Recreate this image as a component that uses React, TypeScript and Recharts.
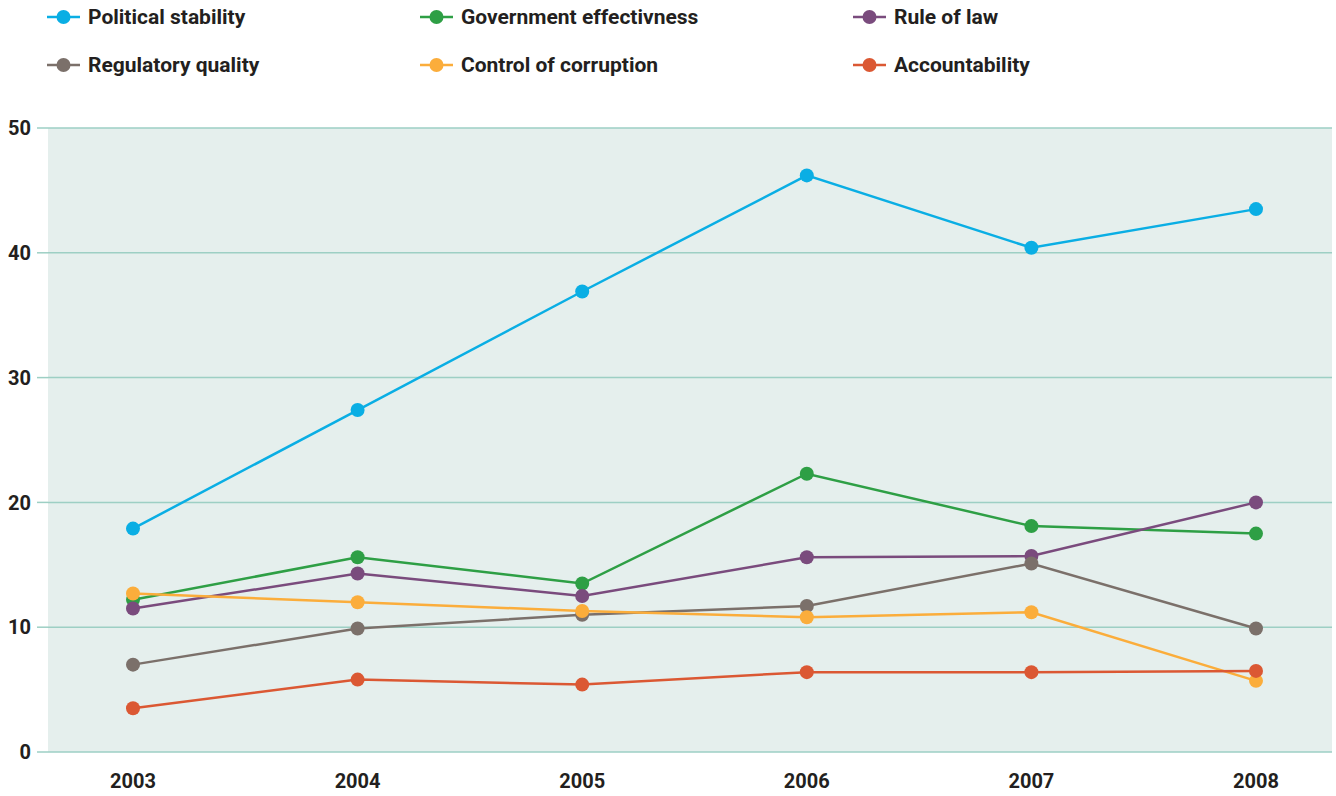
import { LineChart, Line, XAxis, YAxis, CartesianGrid } from "recharts";

const years = ["2003", "2004", "2005", "2006", "2007", "2008"];
const politicalStability = [17.9, 27.4, 36.9, 46.2, 40.4, 43.5];
const governmentEffectivness = [12.2, 15.6, 13.5, 22.3, 18.1, 17.5];
const ruleOfLaw = [11.5, 14.3, 12.5, 15.6, 15.7, 20.0];
const regulatoryQuality = [7.0, 9.9, 11.0, 11.7, 15.1, 9.9];
const controlOfCorruption = [12.7, 12.0, 11.3, 10.8, 11.2, 5.7];
const accountability = [3.5, 5.8, 5.4, 6.4, 6.4, 6.5];
const yTicks = [0, 10, 20, 30, 40, 50];

const series = [
  { key: "political", name: "Political stability", color: "#0aaee4", values: politicalStability },
  { key: "government", name: "Government effectivness", color: "#2e9f45", values: governmentEffectivness },
  { key: "rule", name: "Rule of law", color: "#7a4b7d", values: ruleOfLaw },
  { key: "regulatory", name: "Regulatory quality", color: "#7b706a", values: regulatoryQuality },
  { key: "corruption", name: "Control of corruption", color: "#fbad3b", values: controlOfCorruption },
  { key: "accountability", name: "Accountability", color: "#db5833", values: accountability },
];

const data = years.map((year, i) => {
  const row: any = { year };
  series.forEach((s) => (row[s.key] = s.values[i]));
  return row;
});

const FONT = "Roboto, 'DejaVu Sans', sans-serif";
const TEXT = "#231f20";
const GRID = "#9dcfc4";

const legendCols = [47, 420, 853];
const legendRows = [17, 65];

function LegendBox() {
  return (
    <div style={{ position: "absolute", left: 0, top: 0, width: 1336, height: 90 }}>
      {series.map((s, i) => {
        const left = legendCols[i % 3];
        const top = legendRows[Math.floor(i / 3)];
        return (
          <div
            key={s.key}
            style={{
              position: "absolute",
              left,
              top: top - 13,
              height: 26,
              display: "flex",
              alignItems: "center",
              fontFamily: FONT,
              fontWeight: 700,
              fontSize: 21,
              color: TEXT,
              whiteSpace: "nowrap",
            }}
          >
            <svg width={33} height={16} style={{ marginRight: 8 }}>
              <line x1={0} y1={8} x2={33} y2={8} stroke={s.color} strokeWidth={2.5} />
              <circle cx={16.5} cy={8} r={7} fill={s.color} />
            </svg>
            {s.name}
          </div>
        );
      })}
    </div>
  );
}

export default function App() {
  return (
    <div style={{ position: "absolute", left: 0, top: 0, width: 1336, height: 796, background: "#fff" }}>
      <LineChart
        width={1336}
        height={796}
        data={data}
        margin={{ top: 128, right: 4, bottom: 14, left: 0 }}
      >
        <CartesianGrid vertical={false} stroke={GRID} strokeWidth={1.5} fill="#e5efed" fillOpacity={1} />
        <XAxis
          dataKey="year"
          axisLine={false}
          tickLine={false}
          padding={{ left: 85, right: 76 }}
          tickMargin={16}
          tick={{ fontFamily: FONT, fontWeight: 700, fontSize: 20, fill: TEXT }}
        />
        <YAxis
          width={48}
          domain={[0, 50]}
          ticks={yTicks}
          axisLine={false}
          tickSize={11}
          tickLine={{ stroke: GRID, strokeWidth: 1.5 }}
          tickMargin={6}
          tick={{ fontFamily: FONT, fontWeight: 700, fontSize: 20, fill: TEXT }}
        />
        {series.map((s) => (
          <Line
            key={s.key}
            dataKey={s.key}
            name={s.name}
            stroke={s.color}
            strokeWidth={2.5}
            dot={{ r: 7, fill: s.color, stroke: "none" }}
            activeDot={false}
            isAnimationActive={false}
          />
        ))}
      </LineChart>
      <LegendBox />
    </div>
  );
}
